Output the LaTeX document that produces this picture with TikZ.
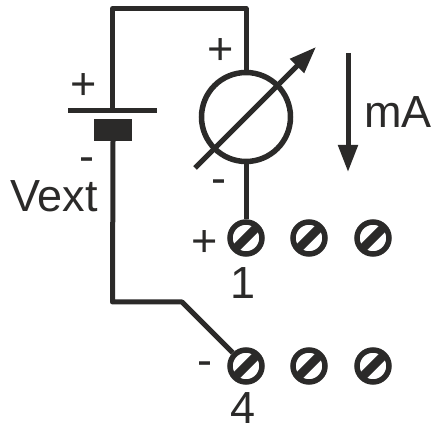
\documentclass[tikz,border=0pt]{standalone}
\usepackage{fontspec}
\setmainfont{Liberation Sans}
\usetikzlibrary{arrows.meta}
\definecolor{ink}{HTML}{2B2A29}
\tikzset{
  wire/.style={draw=ink,line width=5pt,line join=round},
  lbl/.style={text=ink,inner sep=0pt,anchor=base,font=\fontsize{45}{45}\selectfont},
  screw/.style={circle,draw=ink,line width=5.5pt,fill=white,inner sep=0pt,minimum size=32pt,
    path picture={\draw[ink,line width=8.5pt]
      (path picture bounding box.south west)--(path picture bounding box.north east);}},
  arrowline/.style={draw=ink,line width=5pt},
}
\begin{document}
\begin{tikzpicture}[x=1pt,y=-1pt]
\useasboundingbox (0,0) rectangle (431,427);
% battery
\node[draw=none,fill=ink,inner sep=0pt,minimum width=38pt,minimum height=22pt] (cell) at (113,130) {};
\coordinate (plateL) at (68,111);
\coordinate (plateR) at (157,111);
\coordinate (plateM) at (112.5,111);
\draw[wire] (plateL) -- (plateR);
% meter
\node[circle,draw=ink,line width=5.5pt,inner sep=0pt,minimum size=89pt] (meter) at (246,117) {};
\coordinate (topL) at (112.5,8.5);
\coordinate (topR) at (246,8.5);
\draw[wire] (plateM) -- (topL) -- (topR) -- (meter.north);
% screws
\node[screw] (s1) at (246,238) {};
\node[screw] (s2) at (309,238) {};
\node[screw] (s3) at (373,238) {};
\node[screw] (s4) at (246,366) {};
\node[screw] (s5) at (309,366) {};
\node[screw] (s6) at (373,366) {};
\draw[wire] (meter.south) -- (s1.north);
\coordinate (botL) at (112.5,302);
\coordinate (botR) at (182,302);
\draw[wire] (cell.south) -- (botL) -- (botR) -- (s4.north west);
% meter slash with arrow
\coordinate (slashA) at (195,168);
\coordinate (slashB) at (316,47);
\draw[arrowline,-{Triangle[length=27pt,width=19pt]}] (slashA) -- (slashB);
% mA arrow
\coordinate (mAa) at (348,53);
\coordinate (mAb) at (348,172);
\draw[arrowline,-{Triangle[length=27pt,width=19pt]}] (mAa) -- (mAb);
% labels
\node[lbl] (tplus) at (221,65) {+};
\node[lbl] (tminus) at (219,194) {-};
\node[lbl] (bplus) at (84,100) {+};
\node[lbl] (bminus) at (87,172) {-};
\node[lbl,anchor=base west] (vext) at (10,212) {Vext};
\node[lbl,anchor=base west] (ma) at (364,128) {mA};
\node[lbl] (splus) at (205,257) {+};
\node[lbl] (sminus) at (205,376) {-};
\node[lbl] (one) at (243,299) {1};
\node[lbl] (four) at (243,423) {4};
\end{tikzpicture}
\end{document}
